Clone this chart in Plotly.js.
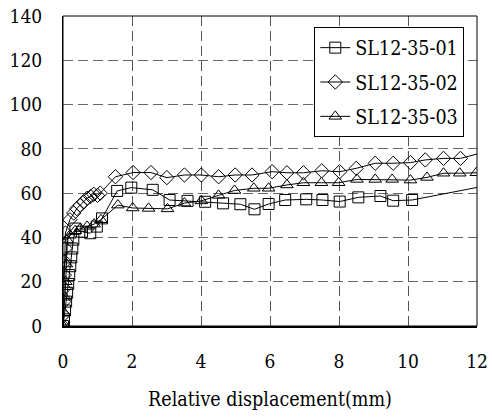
<!DOCTYPE html>
<html>
<head>
<meta charset="utf-8">
<script src="https://cdn.plot.ly/plotly-3.0.1.min.js"></script>
<style>html,body{margin:0;padding:0;background:#fff;}#chart{width:492px;height:419px;}</style>
</head>
<body>
<div id="chart"></div>
<script>
const seriesNames = ["SL12-35-01", "SL12-35-02", "SL12-35-03"];

const x1 = [0,0.03,0.06,0.09,0.12,0.15,0.18,0.21,0.24,0.27,0.3,0.36,0.55,0.79,0.98,1.13,1.57,1.98,2.6,3.09,3.61,4.12,4.64,5.14,5.55,5.96,6.44,7.05,7.52,8.02,8.56,9.2,9.57,10.12,13];
const y1 = [0,3,7,11,15,19,23,27,31,35,39,44,42.6,41.9,44.9,48.6,61,62.5,61.5,56.9,56.5,56.1,55.4,55,52.7,55.1,56.9,57.2,56.9,56.2,58.1,58.7,56.6,56.9,65.6];

const x2 = [0,0.01,0.02,0.03,0.04,0.05,0.06,0.07,0.2,0.31,0.4,0.5,0.6,0.7,0.8,0.89,1.0,1.08,1.52,2.03,2.55,3.01,3.52,4.01,4.51,4.99,5.48,6.06,6.49,6.97,7.5,8.02,8.5,9.05,9.57,10.07,10.5,11.03,11.52,13];
const y2 = [0,5,11,17,23,29,35,42,48,51,53,54.6,56,57.7,58.5,59.5,59,60,67.4,69.3,69.3,67,68.2,68.2,67.4,68.2,68.2,69.7,69.2,69.2,70.1,69.7,71.2,73.5,73.5,73.8,75,75.7,75.7,81.7];

const x3 = [0,0.03,0.05,0.08,0.1,0.12,0.2,0.35,0.5,0.7,0.9,1.1,1.59,2.02,2.48,3.03,3.52,4.01,4.51,4.97,5.53,5.96,6.49,6.97,7.49,7.99,8.52,9.05,9.54,10.07,10.55,11.03,11.5,11.98,13];
const y3 = [0,6,13,20,28,38.8,41,43,44,45,46,48,54.6,53.3,53.1,52.9,55.5,56.5,59,61.2,62.2,62.2,63.7,64.7,64.7,64.7,66.2,66.2,66.2,65.9,67.1,69,69,69.2,71.5];

const xTicks = [0,2,4,6,8,10,12];
const yTicks = [0,20,40,60,80,100,120,140];

const FONT = "DejaVu Serif Condensed";
const symbols = ["square-open", "diamond-open", "triangle-up-open"];
const xs = [x1, x2, x3], ys = [y1, y2, y3];

const traces = seriesNames.map((n, i) => ({
  type: "scatter", mode: "lines+markers", name: n, legendgroup: "g" + i,
  x: xs[i], y: ys[i],
  line: {color: "#000", width: 1},
  marker: {symbol: symbols[i], size: 11, color: "#000", line: {width: 1, color: "#000"}},
  cliponaxis: true
}));

const layout = {
  width: 492, height: 419,
  margin: {l: 63, r: 15, t: 16, b: 93},
  paper_bgcolor: "#fff", plot_bgcolor: "#fff",
  font: {family: FONT, size: 19, color: "#000"},
  showlegend: true,
  legend: {
    x: 0.607, y: 0.963, xanchor: "left", yanchor: "top",
    bgcolor: "#fff", bordercolor: "#000", borderwidth: 1,
    tracegroupgap: 6,
    font: {family: FONT, size: 19.5, color: "#000"}
  },
  xaxis: {
    range: [0, 12], tickvals: xTicks, ticktext: xTicks.map(String),
    showgrid: true, gridcolor: "#555", gridwidth: 1, griddash: "10px,5px",
    zeroline: false, showline: true, linecolor: "#000", linewidth: 2,
    ticks: "outside", ticklen: 17, tickcolor: "rgba(0,0,0,0)",
    tickfont: {family: FONT, size: 19},
    title: {text: "Relative displacement(mm)", font: {family: FONT, size: 19.5}, standoff: 22}
  },
  yaxis: {
    range: [0, 140], tickvals: yTicks, ticktext: yTicks.map(String),
    showgrid: true, gridcolor: "#666", gridwidth: 1, griddash: "10px,5px",
    zeroline: false, showline: true, linecolor: "#000", linewidth: 1,
    ticks: "outside", ticklen: 16, tickcolor: "rgba(0,0,0,0)",
    tickfont: {family: FONT, size: 19}
  },
  shapes: [{type: "rect", xref: "paper", yref: "paper", x0: 0, x1: 1, y0: 0, y1: 1,
    line: {color: "#000", width: 1}, layer: "above"}]
};

Plotly.newPlot("chart", traces, layout, {displayModeBar: false, staticPlot: true});
</script>
</body>
</html>
